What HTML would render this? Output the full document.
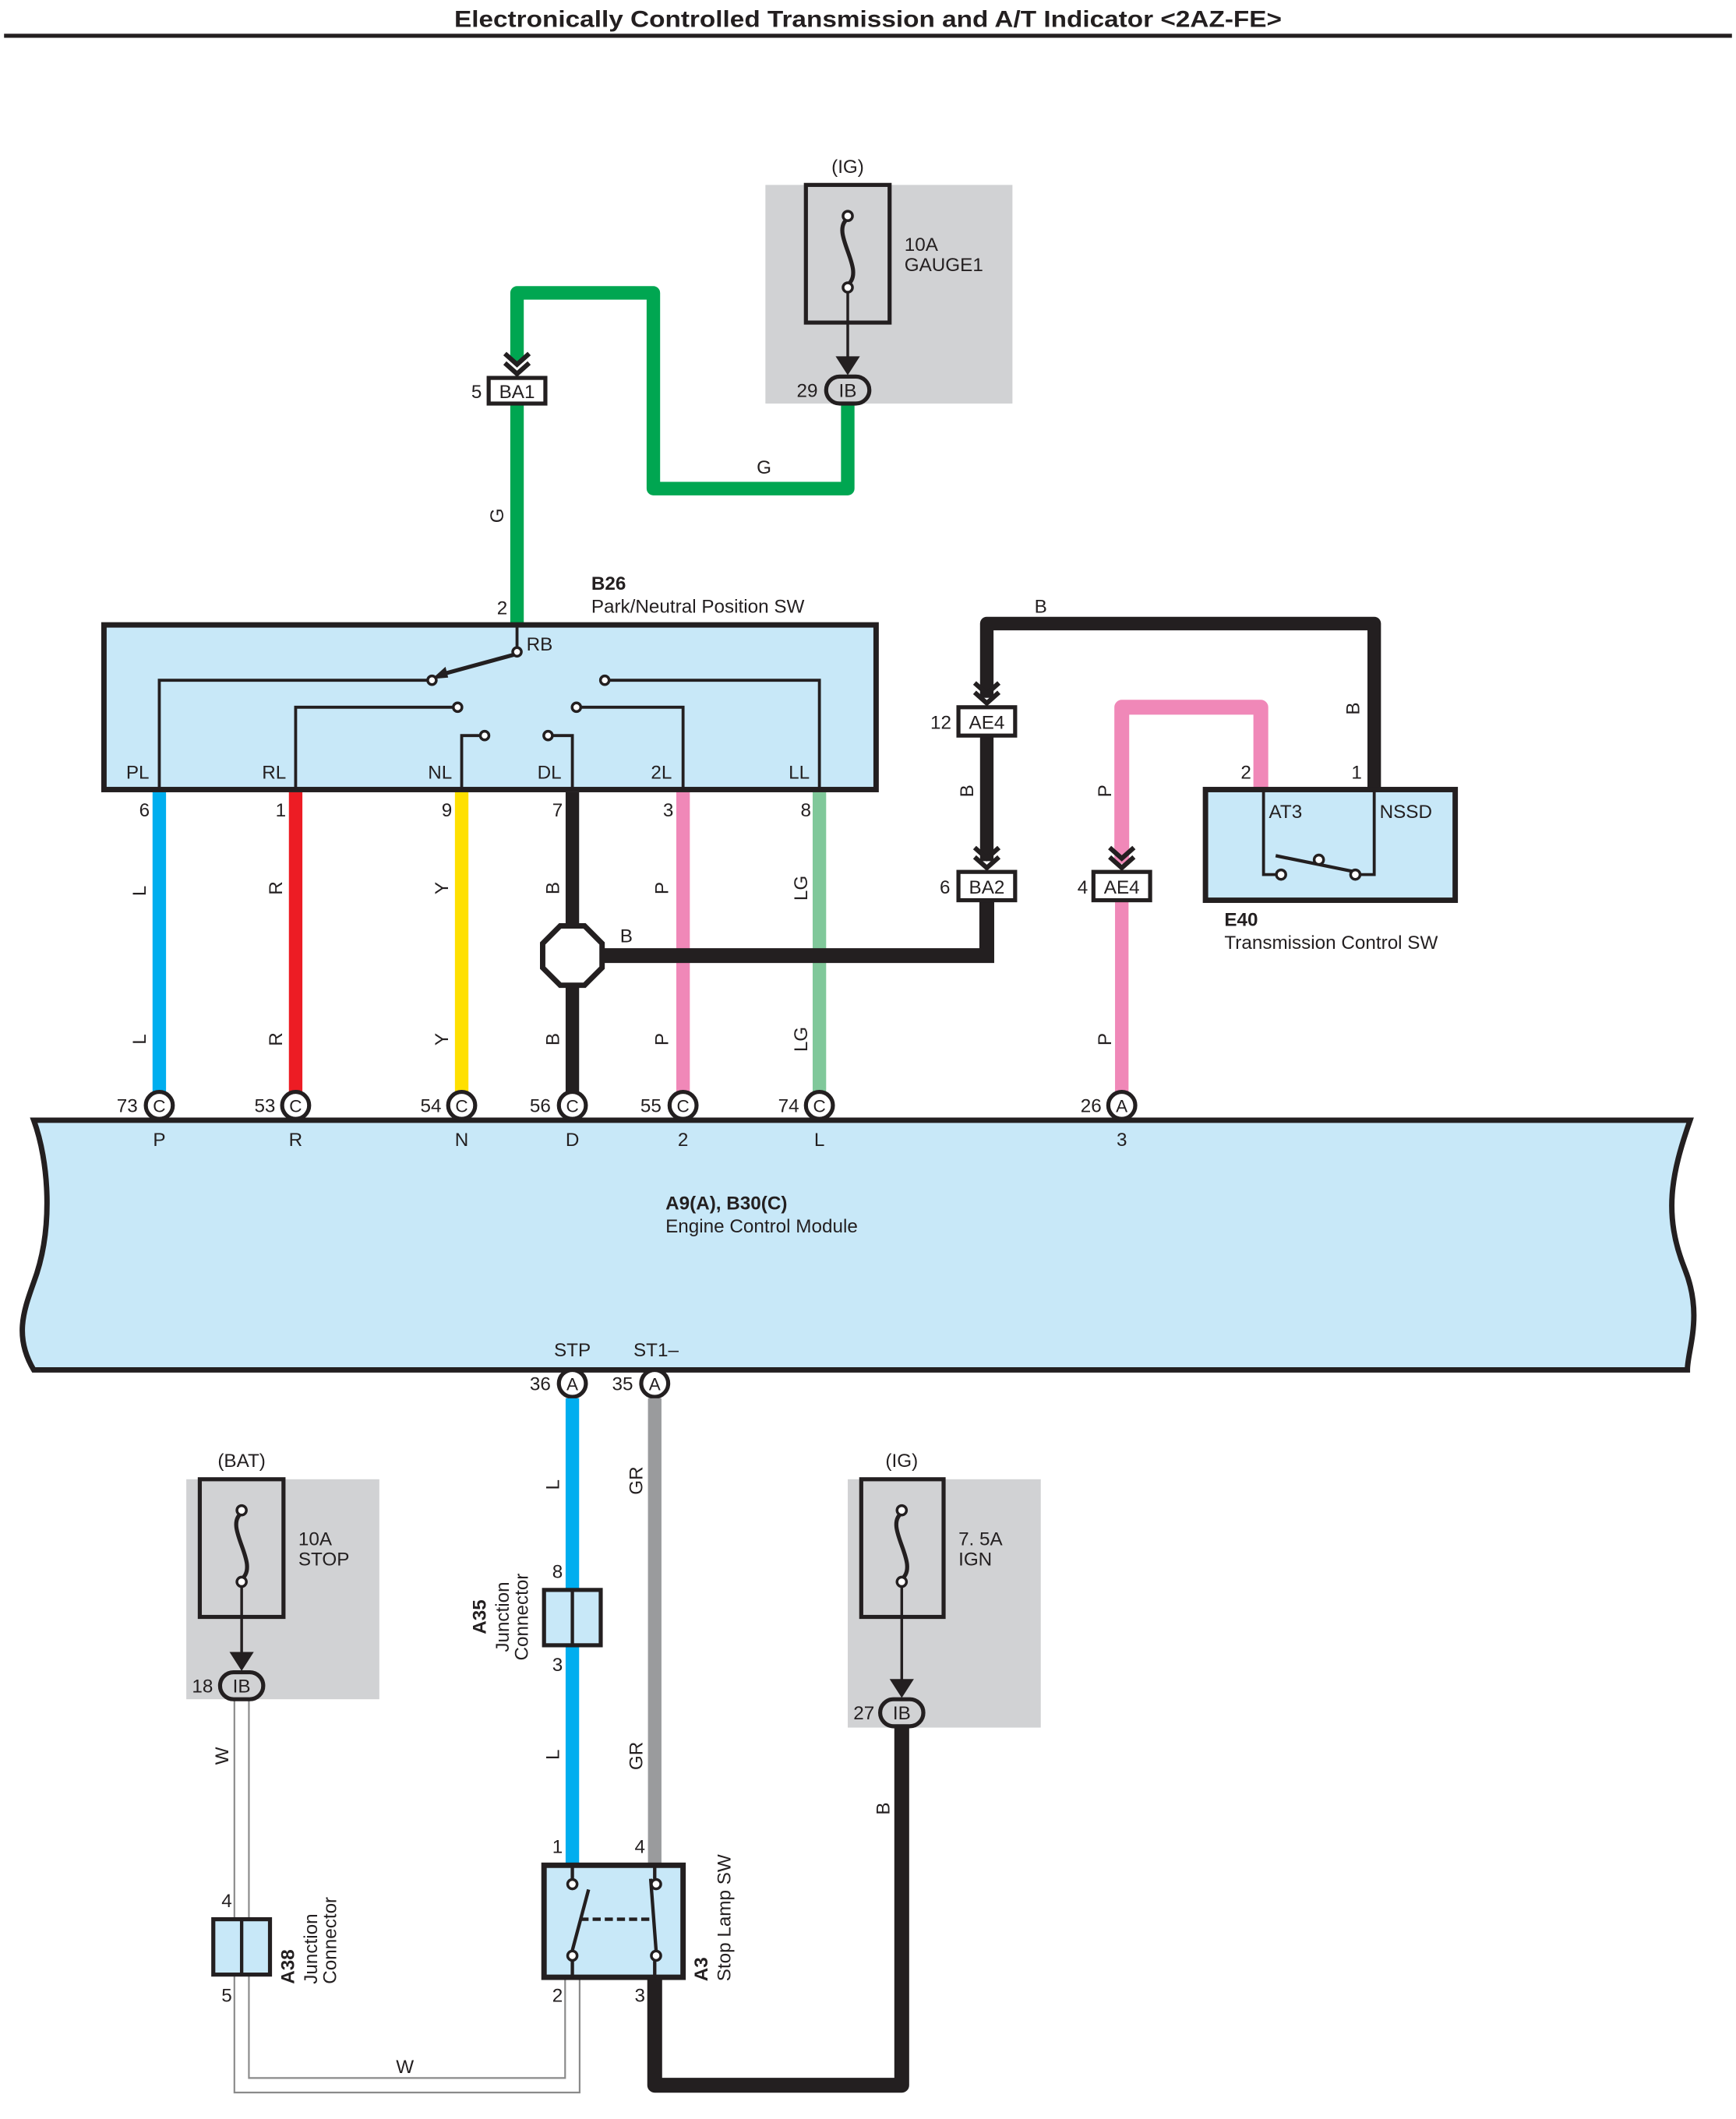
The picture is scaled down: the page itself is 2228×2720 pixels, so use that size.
<!DOCTYPE html>
<html><head><meta charset="utf-8"><style>html,body{margin:0;padding:0;background:#fff}svg{display:block}</style></head>
<body>
<svg width="2228" height="2720" viewBox="0 0 1286 1570" xmlns="http://www.w3.org/2000/svg" font-family="Liberation Sans, sans-serif" font-size="14" fill="#231f20">
<defs>
<g id="arr"><path d="M-9,-12 L0,-4 L9,-12 M-9,-5 L0,3 L9,-5" fill="none" stroke="#231f20" stroke-width="3.5"/></g>
</defs>
<text x="643" y="20" text-anchor="middle" font-weight="bold" font-size="17" textLength="613" lengthAdjust="spacingAndGlyphs">Electronically Controlled Transmission and A/T Indicator &lt;2AZ-FE&gt;</text>
<rect x="3" y="25" width="1280" height="3" fill="#231f20"/>

<!-- top fuse box -->
<rect x="567" y="137" width="183" height="162" fill="#d1d2d4"/>
<text x="628" y="128" text-anchor="middle">(IG)</text>
<rect x="597" y="137" width="62" height="102" fill="none" stroke="#231f20" stroke-width="3"/>
<path d="M628,162 C614,172 642,200 628,211" fill="none" stroke="#231f20" stroke-width="3"/>
<circle cx="628" cy="160" r="3.5" fill="#fff" stroke="#231f20" stroke-width="2"/>
<circle cx="628" cy="213" r="3.5" fill="#fff" stroke="#231f20" stroke-width="2"/>
<line x1="628" y1="217" x2="628" y2="272" stroke="#231f20" stroke-width="2"/>
<path d="M619,264 L628,278 L637,264 Z" fill="#231f20"/>
<text x="670" y="186">10A</text><text x="670" y="201">GAUGE1</text>

<!-- green wire -->
<path d="M628,299 V362 H484 V217 H383 V268" fill="none" stroke="#00a651" stroke-width="10" stroke-linejoin="round"/>
<path d="M383,299 V462" fill="none" stroke="#00a651" stroke-width="10"/>
<use href="#arr" x="383" y="274"/>
<rect x="362" y="280" width="42" height="19" fill="#fff" stroke="#231f20" stroke-width="3"/>
<text x="383" y="295" text-anchor="middle">BA1</text>
<text x="353" y="295" text-anchor="middle">5</text>
<rect x="612" y="279" width="32" height="20" rx="10" fill="#d1d2d4" stroke="#231f20" stroke-width="3"/>
<text x="628" y="294" text-anchor="middle">IB</text>
<text x="598" y="294" text-anchor="middle">29</text>
<text x="566" y="351" text-anchor="middle">G</text>
<text transform="translate(373,382) rotate(-90)" text-anchor="middle">G</text>
<text x="372" y="455" text-anchor="middle">2</text>
<text x="438" y="437" font-weight="bold">B26</text>
<text x="438" y="454">Park/Neutral Position SW</text>

<!-- B26 box -->
<rect x="77" y="463" width="572" height="122" fill="#c8e8f8" stroke="#231f20" stroke-width="4"/>
<g fill="none" stroke="#231f20" stroke-width="2.2">
<path d="M383,463 V483"/>
<path d="M118,585 V504 H318"/>
<path d="M450,504 H607 V585"/>
<path d="M219,585 V524 H337"/>
<path d="M429,524 H506 V585"/>
<path d="M342,585 V545 H357"/>
<path d="M408,545 H424 V585"/>
<path d="M381,485 L326,500" stroke-width="3"/>
</g>
<path d="M320,503 L330,494 L332,502 Z" fill="#231f20"/>
<g fill="#fff" stroke="#231f20" stroke-width="2">
<circle cx="383" cy="483" r="3.2"/><circle cx="320" cy="504" r="3.2"/><circle cx="448" cy="504" r="3.2"/>
<circle cx="339" cy="524" r="3.2"/><circle cx="427" cy="524" r="3.2"/><circle cx="359" cy="545" r="3.2"/><circle cx="406" cy="545" r="3.2"/>
</g>
<text x="390" y="482">RB</text>
<text x="102" y="577" text-anchor="middle">PL</text>
<text x="203" y="577" text-anchor="middle">RL</text>
<text x="326" y="577" text-anchor="middle">NL</text>
<text x="407" y="577" text-anchor="middle">DL</text>
<text x="490" y="577" text-anchor="middle">2L</text>
<text x="592" y="577" text-anchor="middle">LL</text>

<!-- harness wires -->
<g stroke-width="10" fill="none">
<path d="M118,587 V810" stroke="#00aeef"/>
<path d="M219,587 V810" stroke="#ed1c24"/>
<path d="M342,587 V810" stroke="#ffe000"/>
<path d="M506,587 V810" stroke="#f088b8"/>
<path d="M607,587 V810" stroke="#80c89a"/>
<path d="M424,587 V810" stroke="#231f20"/>
</g>
<path d="M446,708 H731 V668" fill="none" stroke="#231f20" stroke-width="11"/>
<polygon points="415,686 433,686 446,699 446,717 433,730 415,730 402,717 402,699" fill="#fff" stroke="#231f20" stroke-width="4"/>
<g text-anchor="middle">
<text x="107" y="605">6</text><text x="208" y="605">1</text><text x="331" y="605">9</text><text x="413" y="605">7</text><text x="495" y="605">3</text><text x="597" y="605">8</text>
</g>
<g text-anchor="middle">
<text transform="translate(108,660) rotate(-90)">L</text><text transform="translate(108,770) rotate(-90)">L</text>
<text transform="translate(209,658) rotate(-90)">R</text><text transform="translate(209,770) rotate(-90)">R</text>
<text transform="translate(332,658) rotate(-90)">Y</text><text transform="translate(332,770) rotate(-90)">Y</text>
<text transform="translate(414,658) rotate(-90)">B</text><text transform="translate(414,770) rotate(-90)">B</text>
<text transform="translate(495,658) rotate(-90)">P</text><text transform="translate(495,770) rotate(-90)">P</text>
<text transform="translate(598,658) rotate(-90)">LG</text><text transform="translate(598,770) rotate(-90)">LG</text>
</g>
<text x="464" y="698" text-anchor="middle">B</text>

<!-- B/AE4/BA2 -->
<path d="M731,517 V462 H1018 V585" fill="none" stroke="#231f20" stroke-width="10" stroke-linejoin="round"/>
<path d="M731,545 V638" fill="none" stroke="#231f20" stroke-width="10"/>
<use href="#arr" x="731" y="518"/>
<use href="#arr" x="731" y="640"/>
<rect x="710" y="524" width="42" height="21" fill="#fff" stroke="#231f20" stroke-width="3"/>
<text x="731" y="540" text-anchor="middle">AE4</text>
<text x="697" y="540" text-anchor="middle">12</text>
<rect x="710" y="646" width="42" height="21" fill="#fff" stroke="#231f20" stroke-width="3"/>
<text x="731" y="662" text-anchor="middle">BA2</text>
<text x="700" y="662" text-anchor="middle">6</text>
<text x="771" y="454" text-anchor="middle">B</text>
<text transform="translate(721,586) rotate(-90)" text-anchor="middle">B</text>
<text transform="translate(1007,525) rotate(-90)" text-anchor="middle">B</text>

<!-- pink -->
<path d="M831,640 V524 H934 V585" fill="none" stroke="#f088b8" stroke-width="11" stroke-linejoin="round"/>
<path d="M831,667 V810" fill="none" stroke="#f088b8" stroke-width="10"/>
<use href="#arr" x="831" y="640"/>
<rect x="810" y="646" width="42" height="21" fill="#fff" stroke="#231f20" stroke-width="3"/>
<text x="831" y="662" text-anchor="middle">AE4</text>
<text x="802" y="662" text-anchor="middle">4</text>
<text transform="translate(823,586) rotate(-90)" text-anchor="middle">P</text>
<text transform="translate(823,770) rotate(-90)" text-anchor="middle">P</text>

<!-- E40 -->
<rect x="893" y="585" width="185" height="82" fill="#c8e8f8" stroke="#231f20" stroke-width="4"/>
<path d="M936,585 V648 H946 M1004,648 H1018 V585" fill="none" stroke="#231f20" stroke-width="2.2"/>
<path d="M945,634 L1004,646" stroke="#231f20" stroke-width="2.5"/>
<g fill="#fff" stroke="#231f20" stroke-width="2"><circle cx="949" cy="648" r="3.5"/><circle cx="1004" cy="648" r="3.5"/><circle cx="977" cy="637" r="3.5"/></g>
<text x="940" y="606">AT3</text><text x="1022" y="606">NSSD</text>
<text x="923" y="577" text-anchor="middle">2</text><text x="1005" y="577" text-anchor="middle">1</text>
<text x="907" y="686" font-weight="bold">E40</text>
<text x="907" y="703">Transmission Control SW</text>

<!-- ECM -->
<path d="M25,830 H1252 C1238,870 1232,900 1248,940 C1262,975 1250,1000 1250,1015 H25 C10,990 18,970 25,950 C40,910 36,860 25,830 Z" fill="#c8e8f8" stroke="#231f20" stroke-width="4"/>
<g fill="#fff" stroke="#231f20" stroke-width="3">
<circle cx="118" cy="819" r="10"/><circle cx="219" cy="819" r="10"/><circle cx="342" cy="819" r="10"/><circle cx="424" cy="819" r="10"/><circle cx="506" cy="819" r="10"/><circle cx="607" cy="819" r="10"/><circle cx="831" cy="819" r="10"/>
<circle cx="424" cy="1025" r="10"/><circle cx="485" cy="1025" r="10"/>
</g>
<g text-anchor="middle" font-size="13">
<text x="118" y="824">C</text><text x="219" y="824">C</text><text x="342" y="824">C</text><text x="424" y="824">C</text><text x="506" y="824">C</text><text x="607" y="824">C</text><text x="831" y="824">A</text>
<text x="424" y="1030">A</text><text x="485" y="1030">A</text>
</g>
<g text-anchor="end">
<text x="102" y="824">73</text><text x="204" y="824">53</text><text x="327" y="824">54</text><text x="408" y="824">56</text><text x="490" y="824">55</text><text x="592" y="824">74</text><text x="816" y="824">26</text>
<text x="408" y="1030">36</text><text x="469" y="1030">35</text>
</g>
<g text-anchor="middle">
<text x="118" y="849">P</text><text x="219" y="849">R</text><text x="342" y="849">N</text><text x="424" y="849">D</text><text x="506" y="849">2</text><text x="607" y="849">L</text><text x="831" y="849">3</text>
<text x="424" y="1005">STP</text><text x="486" y="1005">ST1–</text>
</g>
<text x="493" y="896" font-weight="bold">A9(A), B30(C)</text>
<text x="493" y="913">Engine Control Module</text>

<!-- lower wires -->
<path d="M179,1259 V1545 H424 V1465" fill="none" stroke="#8a8a8a" stroke-width="12"/>
<path d="M179,1259 V1545 H424 V1465" fill="none" stroke="#fff" stroke-width="9.5"/>
<path d="M424,1036 V1382" stroke="#00aeef" stroke-width="10"/>
<path d="M485,1036 V1382" stroke="#9a9b9d" stroke-width="10"/>
<path d="M485,1465 V1545 H668 V1280" fill="none" stroke="#231f20" stroke-width="11" stroke-linejoin="round"/>

<!-- A35 -->
<rect x="403" y="1178" width="42" height="41" fill="#c8e8f8" stroke="#231f20" stroke-width="3"/>
<line x1="424" y1="1178" x2="424" y2="1219" stroke="#231f20" stroke-width="2.5"/>
<text x="413" y="1169" text-anchor="middle">8</text><text x="413" y="1238" text-anchor="middle">3</text>
<text transform="translate(360,1198) rotate(-90)" text-anchor="middle" font-weight="bold">A35</text>
<text transform="translate(377,1198) rotate(-90)" text-anchor="middle">Junction</text>
<text transform="translate(391,1198) rotate(-90)" text-anchor="middle">Connector</text>
<text transform="translate(414,1100) rotate(-90)" text-anchor="middle">L</text>
<text transform="translate(414,1300) rotate(-90)" text-anchor="middle">L</text>
<text transform="translate(476,1097) rotate(-90)" text-anchor="middle">GR</text>
<text transform="translate(476,1301) rotate(-90)" text-anchor="middle">GR</text>

<!-- A3 -->
<rect x="403" y="1382" width="103" height="83" fill="#c8e8f8" stroke="#231f20" stroke-width="4"/>
<g stroke="#231f20" stroke-width="2.5" fill="none">
<path d="M424,1382 V1392 M424,1453 V1465 M485,1382 V1392 M485,1453 V1465"/>
<path d="M424,1445 L436,1400"/><path d="M482,1392 L486,1445"/>
<path d="M430,1422 H484" stroke-dasharray="6,3"/>
</g>
<g fill="#fff" stroke="#231f20" stroke-width="2"><circle cx="424" cy="1396" r="3.5"/><circle cx="424" cy="1449" r="3.5"/><circle cx="486" cy="1396" r="3.5"/><circle cx="486" cy="1449" r="3.5"/></g>
<text x="413" y="1373" text-anchor="middle">1</text><text x="474" y="1373" text-anchor="middle">4</text>
<text x="413" y="1483" text-anchor="middle">2</text><text x="474" y="1483" text-anchor="middle">3</text>
<text transform="translate(524,1468) rotate(-90)" font-weight="bold">A3</text>
<text transform="translate(541,1468) rotate(-90)">Stop Lamp SW</text>

<!-- BAT fuse -->
<rect x="138" y="1096" width="143" height="163" fill="#d1d2d4"/>
<text x="179" y="1087" text-anchor="middle">(BAT)</text>
<rect x="148" y="1096" width="62" height="102" fill="none" stroke="#231f20" stroke-width="3"/>
<path d="M179,1121 C165,1131 193,1159 179,1170" fill="none" stroke="#231f20" stroke-width="3"/>
<circle cx="179" cy="1119" r="3.5" fill="#fff" stroke="#231f20" stroke-width="2"/>
<circle cx="179" cy="1172" r="3.5" fill="#fff" stroke="#231f20" stroke-width="2"/>
<line x1="179" y1="1176" x2="179" y2="1232" stroke="#231f20" stroke-width="2"/>
<path d="M170,1224 L179,1238 L188,1224 Z" fill="#231f20"/>
<rect x="163" y="1239" width="32" height="20" rx="10" fill="#d1d2d4" stroke="#231f20" stroke-width="3"/>
<text x="179" y="1254" text-anchor="middle">IB</text>
<text x="150" y="1254" text-anchor="middle">18</text>
<text x="221" y="1145">10A</text><text x="221" y="1160">STOP</text>
<text transform="translate(169,1301) rotate(-90)" text-anchor="middle">W</text>
<text x="300" y="1536" text-anchor="middle">W</text>

<!-- A38 -->
<rect x="158" y="1422" width="42" height="41" fill="#c8e8f8" stroke="#231f20" stroke-width="3"/>
<line x1="179" y1="1422" x2="179" y2="1463" stroke="#231f20" stroke-width="2.5"/>
<text x="168" y="1413" text-anchor="middle">4</text><text x="168" y="1483" text-anchor="middle">5</text>
<text transform="translate(218,1470) rotate(-90)" font-weight="bold">A38</text>
<text transform="translate(235,1470) rotate(-90)">Junction</text>
<text transform="translate(249,1470) rotate(-90)">Connector</text>

<!-- IG fuse bottom -->
<rect x="628" y="1096" width="143" height="184" fill="#d1d2d4"/>
<text x="668" y="1087" text-anchor="middle">(IG)</text>
<rect x="638" y="1096" width="61" height="102" fill="none" stroke="#231f20" stroke-width="3"/>
<path d="M668,1121 C654,1131 682,1159 668,1170" fill="none" stroke="#231f20" stroke-width="3"/>
<circle cx="668" cy="1119" r="3.5" fill="#fff" stroke="#231f20" stroke-width="2"/>
<circle cx="668" cy="1172" r="3.5" fill="#fff" stroke="#231f20" stroke-width="2"/>
<line x1="668" y1="1176" x2="668" y2="1252" stroke="#231f20" stroke-width="2"/>
<path d="M659,1244 L668,1258 L677,1244 Z" fill="#231f20"/>
<rect x="652" y="1259" width="32" height="20" rx="10" fill="#d1d2d4" stroke="#231f20" stroke-width="3"/>
<text x="668" y="1274" text-anchor="middle">IB</text>
<text x="640" y="1274" text-anchor="middle">27</text>
<text x="710" y="1145">7. 5A</text><text x="710" y="1160">IGN</text>
<text transform="translate(659,1340) rotate(-90)" text-anchor="middle">B</text>
</svg>
</body></html>
